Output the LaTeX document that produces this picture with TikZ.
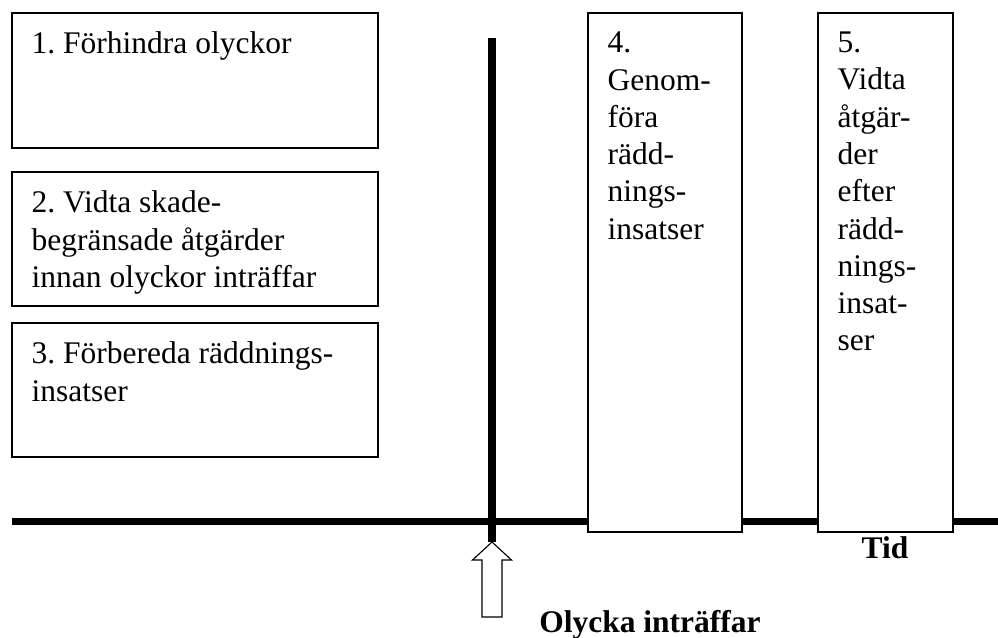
\documentclass[tikz,border=0pt]{standalone}
\usepackage{fontspec}
\setmainfont{Liberation Serif}
\usetikzlibrary{positioning,calc}
\frenchspacing

\begin{document}
\begin{tikzpicture}[
 phase/.style={draw,fill=white,line width=0.8pt,inner sep=0pt},
 phasetext/.style={anchor=north west,inner sep=0pt,align=left,label distance=0pt,xshift=0.5cm,yshift=-0.485cm,font=\fontsize{22.4}{26.5}\selectfont},
 wide/.style={phase,minimum width=9.15cm,minimum height=3.35cm},
 tall/.style={phase,minimum height=12.975cm},
 timeline/.style={line width=5.4pt},
 marker/.style={inner sep=0pt,anchor=base,font=\fontsize{22.4}{26.5}\selectfont\bfseries}]
\useasboundingbox (0,0) rectangle (24.95,15.925);

% tidslinje och olyckstillfälle
\coordinate (start) at (0.3,2.8875);
\coordinate (end) at (24.95,2.8875);
\draw[timeline] (start) -- (end);
\coordinate (top) at (12.3,14.975);
\coordinate (tip) at (12.3,2.375);
\draw[timeline] (top) -- (tip);

% före olyckan
\node[wide,minimum height=3.375cm,label={[phasetext]north west:1. Förhindra olyckor}] (forhindra) at (4.875,13.9125) {};
\node[wide,label={[phasetext]north west:2. Vidta skade-\\begränsade åtgärder\\innan olyckor inträffar}] (vidta) at (4.875,9.95) {};
\node[wide,label={[phasetext]north west:3. Förbereda räddnings-\\insatser}] (forbereda) at (4.875,6.175) {};

% under och efter
\node[tall,minimum width=3.85cm,label={[phasetext]north west:4.\\Genom-\\föra\\rädd-\\nings-\\insatser}] (genomfora) at (16.625,9.1125) {};
\node[tall,minimum width=3.375cm,label={[phasetext]north west:5.\\Vidta\\åtgär-\\der\\efter\\rädd-\\nings-\\insat-\\ser}] (efter) at (22.1375,9.1125) {};

% pil
\draw[phase] (tip) -- ++(0.4875,-0.45) -- ++(-0.2375,0) -- ++(0,-1.425) -- ++(-0.5,0) -- ++(0,1.425) -- ++(-0.2375,0) -- cycle;

\node[marker] (tid) at (22.125,1.975) {Tid};
\node[marker] (olycka) at (16.25,0.125) {Olycka inträffar};
\end{tikzpicture}
\end{document}
